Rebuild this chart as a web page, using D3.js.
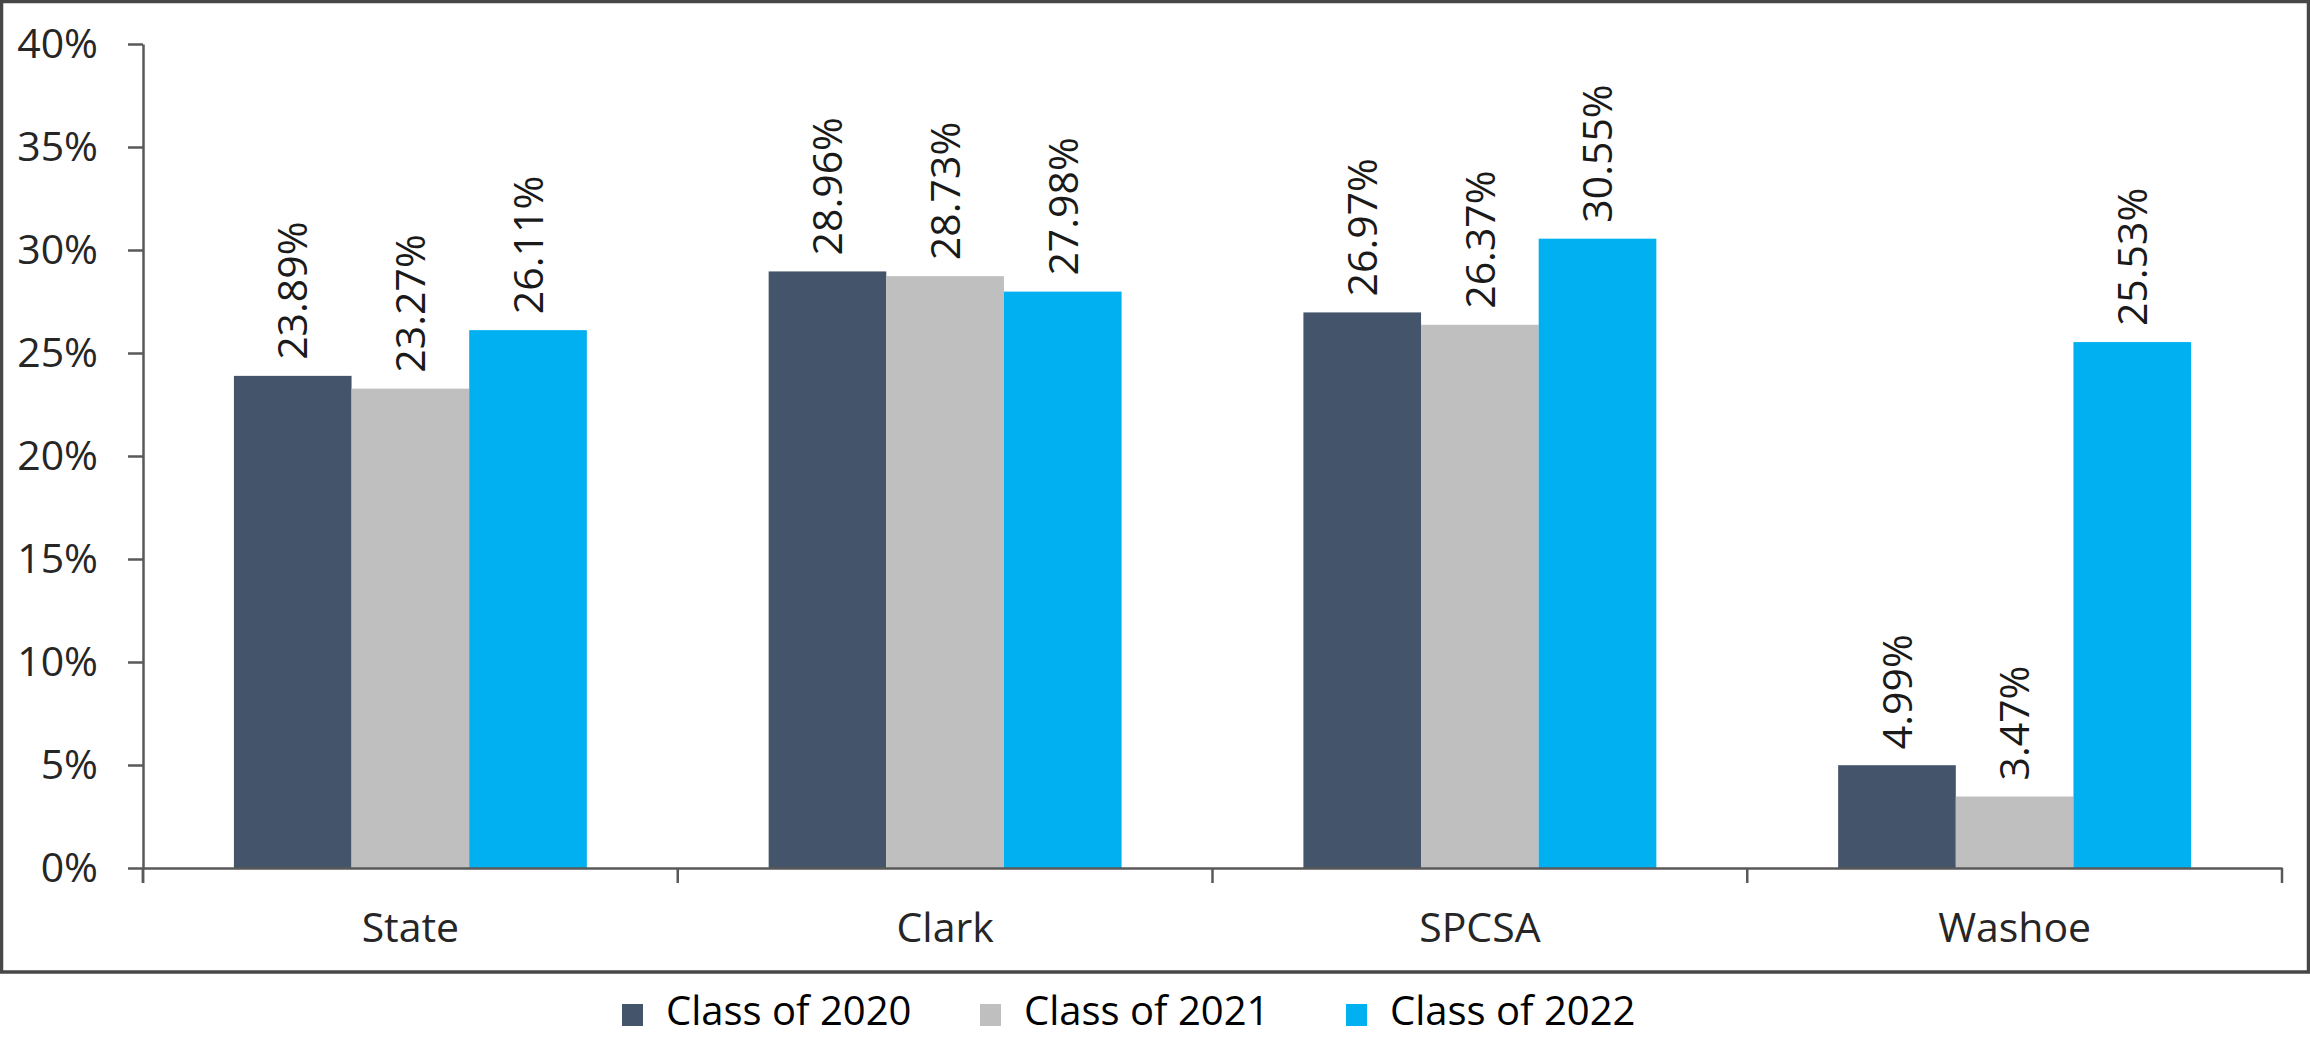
<!DOCTYPE html>
<html>
<head>
<meta charset="utf-8">
<script src="https://cdn.jsdelivr.net/npm/d3@7"></script>
<style>
  body { margin: 0; background: #fff; }
  text { font-family: "Open Sans", "DejaVu Sans", sans-serif; fill: #262626; }
</style>
</head>
<body>
<div id="chart"></div>
<script>
// Data
const categories = ['State', 'Clark', 'SPCSA', 'Washoe'];
const seriesNames = ['Class of 2020', 'Class of 2021', 'Class of 2022'];
const class2020 = [23.89, 28.96, 26.97, 4.99];
const class2021 = [23.27, 28.73, 26.37, 3.47];
const class2022 = [26.11, 27.98, 30.55, 25.53];
const yTicks = [0, 5, 10, 15, 20, 25, 30, 35, 40];
const colors = ['#44546a', '#bfbfbf', '#00b0f0'];

const seriesValues = [class2020, class2021, class2022];
const rows = categories.map((c, i) => ({
  category: c,
  values: seriesNames.map((s, j) => ({ series: s, value: seriesValues[j][i] }))
}));

const width = 2310, height = 1037;
const plot = { left: 143, right: 2282, top: 44, bottom: 868 };

const svg = d3.select('#chart').append('svg')
    .attr('width', width)
    .attr('height', height);

// outer frame
svg.append('rect')
    .attr('x', 1.5).attr('y', 1.5)
    .attr('width', 2307).attr('height', 970.5)
    .attr('fill', 'none')
    .attr('stroke', '#474747')
    .attr('stroke-width', 3.5);

const x0 = d3.scaleBand()
    .domain(categories)
    .range([plot.left, plot.right])
    .paddingInner(0.34)
    .paddingOuter(0.17);

const x1 = d3.scaleBand()
    .domain(seriesNames)
    .range([0, x0.bandwidth()]);

const y = d3.scaleLinear()
    .domain([0, 40])
    .range([plot.bottom, plot.top]);

const color = d3.scaleOrdinal().domain(seriesNames).range(colors);

// bars
const groups = svg.append('g').selectAll('g')
    .data(rows)
  .join('g')
    .attr('transform', d => `translate(${x0(d.category)},0)`);

groups.selectAll('rect')
    .data(d => d.values)
  .join('rect')
    .attr('x', d => x1(d.series))
    .attr('y', d => y(d.value))
    .attr('width', x1.bandwidth())
    .attr('height', d => y(0) - y(d.value))
    .attr('fill', d => color(d.series));

// rotated value labels
groups.selectAll('text')
    .data(d => d.values)
  .join('text')
    .attr('transform', d => `translate(${x1(d.series) + x1.bandwidth() / 2},${y(d.value) - 16}) rotate(-90)`)
    .attr('dy', '0.36em')
    .attr('text-anchor', 'start')
    .style('font-size', '41px')
    .style('fill', '#1a1a1a')
    .text(d => d.value.toFixed(2) + '%');

// y axis
const yAxis = svg.append('g')
    .attr('transform', `translate(${plot.left},0)`)
    .call(d3.axisLeft(y)
      .tickValues(yTicks)
      .tickSize(15)
      .tickSizeOuter(0)
      .tickPadding(30)
      .tickFormat(d => d + '%'));
yAxis.selectAll('.tick text')
    .style('font-size', '41px')
    .attr('font-family', null);
yAxis.selectAll('path, line')
    .attr('stroke', '#595959')
    .attr('stroke-width', 2.5);
// extend y axis down past baseline
yAxis.append('line')
    .attr('x1', 0).attr('x2', 0)
    .attr('y1', plot.bottom).attr('y2', plot.bottom + 15)
    .attr('stroke', '#595959').attr('stroke-width', 2.5);

// x axis
const xAxis = svg.append('g')
    .attr('transform', `translate(0,${plot.bottom})`)
    .call(d3.axisBottom(x0).tickSize(0).tickSizeOuter(0).tickPadding(45));
xAxis.select('.domain')
    .attr('stroke', '#595959')
    .attr('stroke-width', 2.5);
xAxis.selectAll('.tick text')
    .style('font-size', '41px')
    .attr('font-family', null);

const boundaries = d3.range(categories.length + 1).map(i => x0.range()[0] + i * x0.step());
xAxis.selectAll('.boundary')
    .data(boundaries)
  .join('line')
    .attr('class', 'boundary')
    .attr('x1', d => d).attr('x2', d => d)
    .attr('y1', 0).attr('y2', 15)
    .attr('stroke', '#595959')
    .attr('stroke-width', 2.5);

// legend
const legend = svg.append('g')
    .attr('transform', 'translate(622,1025)');
const legendGap = [0, 358, 724];
seriesNames.forEach((s, i) => {
  const item = legend.append('g').attr('transform', `translate(${legendGap[i]},0)`);
  item.append('rect')
      .attr('x', 0).attr('y', -21)
      .attr('width', 21).attr('height', 22)
      .attr('fill', color(s));
  item.append('text')
      .attr('x', 44)
      .attr('y', 0)
      .style('font-size', '40px')
      .style('fill', '#000')
      .text(s);
});
</script>
</body>
</html>
